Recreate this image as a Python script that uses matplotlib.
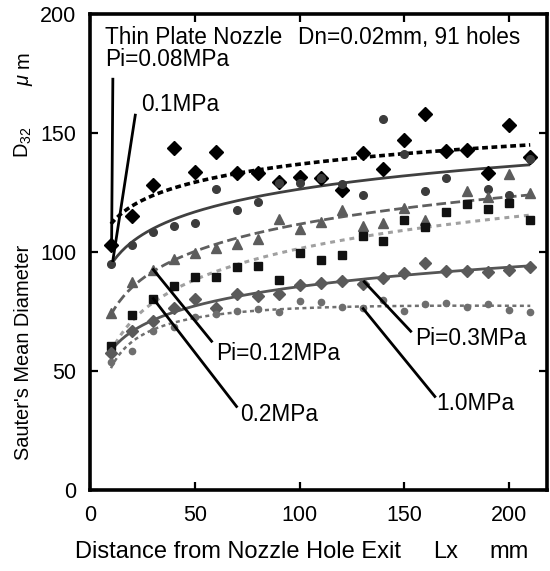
import numpy as np
import matplotlib
matplotlib.use("Agg")
import matplotlib.pyplot as plt

plt.rcParams['font.family'] = ['Liberation Sans', 'DejaVu Sans']
plt.rcParams['mathtext.fontset'] = 'custom'
plt.rcParams['mathtext.rm'] = 'Liberation Sans'
plt.rcParams['mathtext.it'] = 'Liberation Sans:italic'

# ---- data ----
x = [10, 20, 30, 40, 50, 60, 70, 80, 90, 100, 110, 120, 130, 140, 150, 160, 170, 180, 190, 200, 210]
nan = np.nan
p008 = [103, 115, 128, 143.5, 133.5, 142, 133, 133, 129.5, 131.5, 131, 126, 141.5, 135, 147, 158, 142.5, 143, 133, 153.5, 140]
p010 = [95, 103, 108.5, 111, 112, 126.5, 117.5, 121, 129, 129, 131, 128.5, 124, 156, 141, 125.5, 131, nan, 126.5, 124, 139]
p012 = [74.5, 87.5, 92.5, 97, 99.5, 101.5, 103.5, 105.5, 114, 109.5, 112.5, 117.7, 111, 112, 118.6, 113.5, nan, 125.6, 123, 132.6, 125]
p020 = [60.7, 73.7, 80.4, 85.6, 89.4, 89.4, 93.8, 94, 88.3, 99.6, 96.8, 98.7, 106.8, 104.7, 113.3, 110.3, 116.9, 120, 117.9, 120.7, 113.4]
p030 = [57.5, 66.7, 71.2, 76.5, 80.4, 76.5, 82.4, 81.4, 82.4, 86.3, 87, 87.7, 86.6, 89.1, 91, 95.2, 92.2, 92.2, 91.7, 92.4, 93.8]
p100 = [53.8, 58.2, 67, 68.5, 72.8, 74, 75.2, 76, 74.6, 79.5, 78.8, 76.8, 76.3, 80, 75.2, 78.3, 78.6, 77, 78.3, 75.5, 74.8]

xticks = [0, 50, 100, 150, 200]
yticks = [0, 50, 100, 150, 200]

fig = plt.figure(figsize=(5.5, 5.71), dpi=100)
ax = fig.add_axes([90/550, 1-490/571, (547-90)/550, (490-14)/571])

xa = np.array(x, float)
xf = np.linspace(10, 210, 200)

def logfit(y, deg=1):
    y = np.array(y, float)
    m = ~np.isnan(y)
    c = np.polyfit(np.log(xa[m]), y[m], deg)
    return np.polyval(c, np.log(xf))

series = [
    # data, marker, ms, mcolor, line color, lw, dashes, deg
    (p008, 'D', 7.0, '#000000', '#000000', 2.6, (1.6, 1.0), 1),
    (p010, 'o', 5.5, '#3c3c3c', '#404040', 2.0, None, 1),
    (p012, '^', 6.5, '#5c5c5c', '#5f5f5f', 2.0, (3.5, 1.6), 1),
    (p020, 's', 5.5, '#111111', '#a0a0a0', 2.2, (1.6, 1.6), 1),
    (p030, 'D', 6.2, '#5a5a5a', '#555555', 2.0, None, 1),
    (p100, 'o', 4.5, '#6e6e6e', '#707070', 1.8, (1.6, 1.4), 2),
]
for y, mk, ms, mc, lc, lw, dash, deg in series:
    ax.plot(x, y, linestyle='none', marker=mk, ms=ms, color=mc, mec=mc, zorder=3)
    yf = logfit(y, deg)
    if dash is None:
        ax.plot(xf, yf, color=lc, lw=lw, solid_capstyle='butt', zorder=2)
    else:
        ax.plot(xf, yf, color=lc, lw=lw, dashes=dash, zorder=2)

ax.set_xlim(0, 218)
ax.set_ylim(0, 200)
ax.set_xticks(xticks)
ax.set_yticks(yticks)
ax.tick_params(direction='in', length=6, width=1.6, labelsize=15.5,
               top=True, right=True, labeltop=False, labelright=False)
ax.tick_params(axis='x', pad=11)
ax.tick_params(axis='y', pad=10)
for s in ax.spines.values():
    s.set_linewidth(2.6)

fs = 16.3
# x axis title (pieces placed as in the reference)
xl = dict(fontsize=17, ha='left', va='baseline')
fig.text(75/550, 1-558/571, "Distance from Nozzle Hole Exit", **xl)
fig.text(433/550, 1-558/571, "Lx", **xl)
fig.text(489/550, 1-558/571, "mm", **xl)
# y axis title
yl = dict(fontsize=14.4, ha='left', va='baseline', rotation=90, rotation_mode='anchor')
fig.text(29/550, 1-460/571, "Sauter's Mean Diameter", **yl)
fig.text(29/550, 1-158/571, "D$_{32}$", **yl)
fig.text(29/550, 1-86/571, "μ", fontstyle='italic', **yl)
fig.text(29/550, 1-68/571, "m", **yl)

ax.text(7.0, 187.4, "Thin Plate Nozzle", fontsize=fs, va='baseline', ha='left')
ax.text(99.1, 187.4, "Dn=0.02mm, 91 holes", fontsize=fs, va='baseline', ha='left')
ax.text(7.0, 178.2, "Pi=0.08MPa", fontsize=fs, va='baseline', ha='left')
ax.text(24.6, 159.2, "0.1MPa", fontsize=fs, va='baseline', ha='left')
ax.text(60.4, 54.7, "Pi=0.12MPa", fontsize=fs, va='baseline', ha='left')
ax.text(71.8, 28.8, "0.2MPa", fontsize=fs, va='baseline', ha='left')
ax.text(155.0, 61.1, "Pi=0.3MPa", fontsize=fs, va='baseline', ha='left')
ax.text(165.3, 33.7, "1.0MPa", fontsize=fs, va='baseline', ha='left')

lk = dict(color='black', lw=2.0, zorder=4)
ax.plot([10.9, 10.3], [172.6, 102.5], **lk)
ax.plot([21.6, 10.9], [157.5, 96.4], **lk)
ax.plot([30.2, 58.0], [92.6, 62.5], **lk)
ax.plot([30.2, 69.9], [80.4, 35.1], **lk)
ax.plot([130.8, 153.0], [87.5, 66.7], **lk)
ax.plot([130.3, 164.5], [76.2, 39.3], **lk)

fig.savefig("out.png", dpi=100)
